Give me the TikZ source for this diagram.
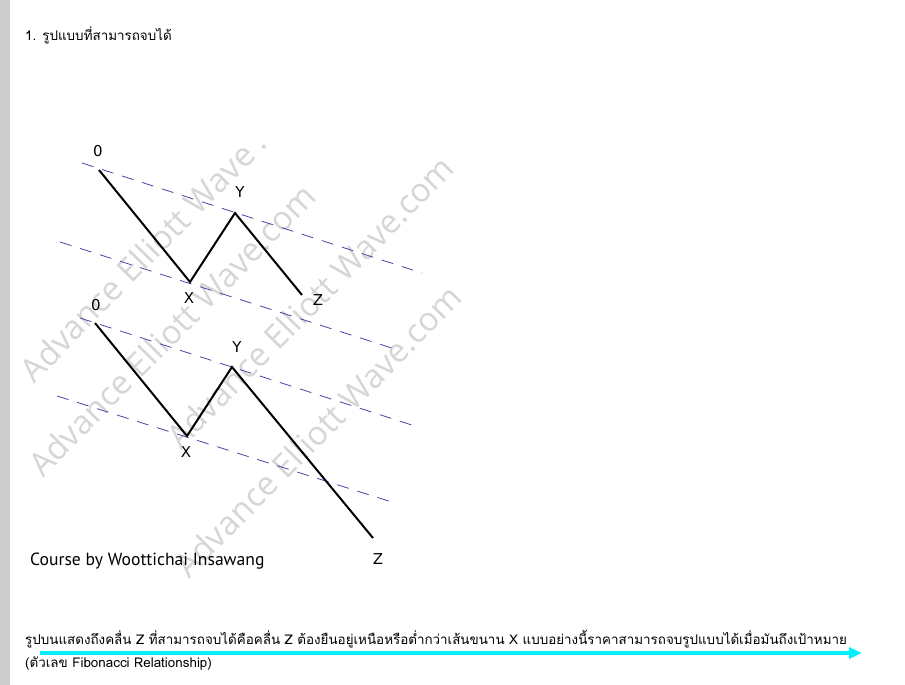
\documentclass[tikz,border=0pt]{standalone}
\usepackage{fontspec}
\setmainfont{DejaVu Sans}
\newfontfamily\thaifont[Script=Thai]{Loma}
\newfontfamily\credfont{PT Sans}
\newfontfamily\wmfont{Open Sans}
\usepackage{xcolor}
\usetikzlibrary{arrows.meta,positioning}
\definecolor{chanblue}{RGB}{70,70,170}
\definecolor{barGray}{RGB}{204,204,204}
\definecolor{wmGray}{RGB}{214,214,214}
\definecolor{guideCyan}{RGB}{0,240,255}

\begin{document}
\begin{tikzpicture}[
    x=1pt, y=-1pt,
    wave/.style={line width=2pt, black, line join=miter},
    channel/.style={draw=chanblue, line width=0.8pt, dash pattern=on 12pt off 9pt},
    ptlabel/.style={font=\fontsize{15}{15}\selectfont, inner sep=0pt},
    wmark/.style={font=\wmfont\fontsize{33}{33}\selectfont, text=wmGray, rotate=45.5, inner sep=0pt},
    thai/.style={font=\thaifont\fontsize{13.4}{15}\selectfont, anchor=west, inner sep=0pt},
    guide/.style={draw=guideCyan, line width=3.5pt, -{Triangle[length=13pt,width=11pt]}}
]

\fill[white] (0,0) rectangle (905,685);
\fill[barGray] (0,0) rectangle (10,685);

\node[wmark] (wm1) at (143,256) {Advance Elliott Wave .};
\node[wmark] (wm2) at (172,330) {Advance Elliott Wave.com};
\node[wmark] (wm3) at (310,302) {Advance Elliott Wave.com};
\node[wmark] (wm4) at (318,431) {Advance Elliott Wave.com};

\node[thai] (title) at (25,35) {1. รูปแบบที่สามารถจบได้};

\coordinate (ca1) at (82,163);
\coordinate (ca2) at (422,273);
\coordinate (cb1) at (60,242);
\coordinate (cb2) at (398,350);
\draw[channel] (ca1) -- (ca2);
\draw[channel] (cb1) -- (cb2);

\coordinate (o1) at (99,170);
\coordinate (x1) at (190,282);
\coordinate (y1) at (235,213);
\coordinate (z1) at (302,295);
\draw[wave] (o1) -- (x1) -- (y1) -- (z1);

\node[ptlabel] (lo1) at (98,151) {0};
\node[ptlabel] (lx1) at (189,298) {X};
\node[ptlabel] (ly1) at (240,192) {Y};
\node[ptlabel] (lz1) at (318,300) {Z};

\coordinate (cc1) at (80,318);
\coordinate (cc2) at (418,427);
\coordinate (cd1) at (57,396);
\coordinate (cd2) at (395,503);
\draw[channel] (cc1) -- (cc2);
\draw[channel] (cd1) -- (cd2);

\coordinate (o2) at (95,323);
\coordinate (x2) at (187,436);
\coordinate (y2) at (232,367);
\coordinate (z2) at (373,538);
\draw[wave] (o2) -- (x2) -- (y2) -- (z2);

\node[ptlabel] (lo2) at (96,305) {0};
\node[ptlabel] (lx2) at (186,452) {X};
\node[ptlabel] (ly2) at (237,347) {Y};
\node[ptlabel] (lz2) at (378,559) {Z};

\node[font=\credfont\fontsize{17.6}{18}\selectfont, anchor=west, inner sep=0pt] (credit) at (30,561) {Course by Woottichai Insawang};

\node[thai] (note1) at (25,639) {รูปบนแสดงถึงคลื่น Z ที่สามารถจบได้คือคลื่น Z ต้องยืนอยู่เหนือหรือต่ำกว่าเส้นขนาน X แบบอย่างนี้ราคาสามารถจบรูปแบบได้เมื่อมันถึงเป้าหมาย};
\node[thai] (note2) at (25,664) {(ตัวเลข Fibonacci Relationship)};

\coordinate (ar1) at (40,653);
\coordinate (ar2) at (862,653);
\draw[guide] (ar1) -- (ar2);

\end{tikzpicture}
\end{document}
